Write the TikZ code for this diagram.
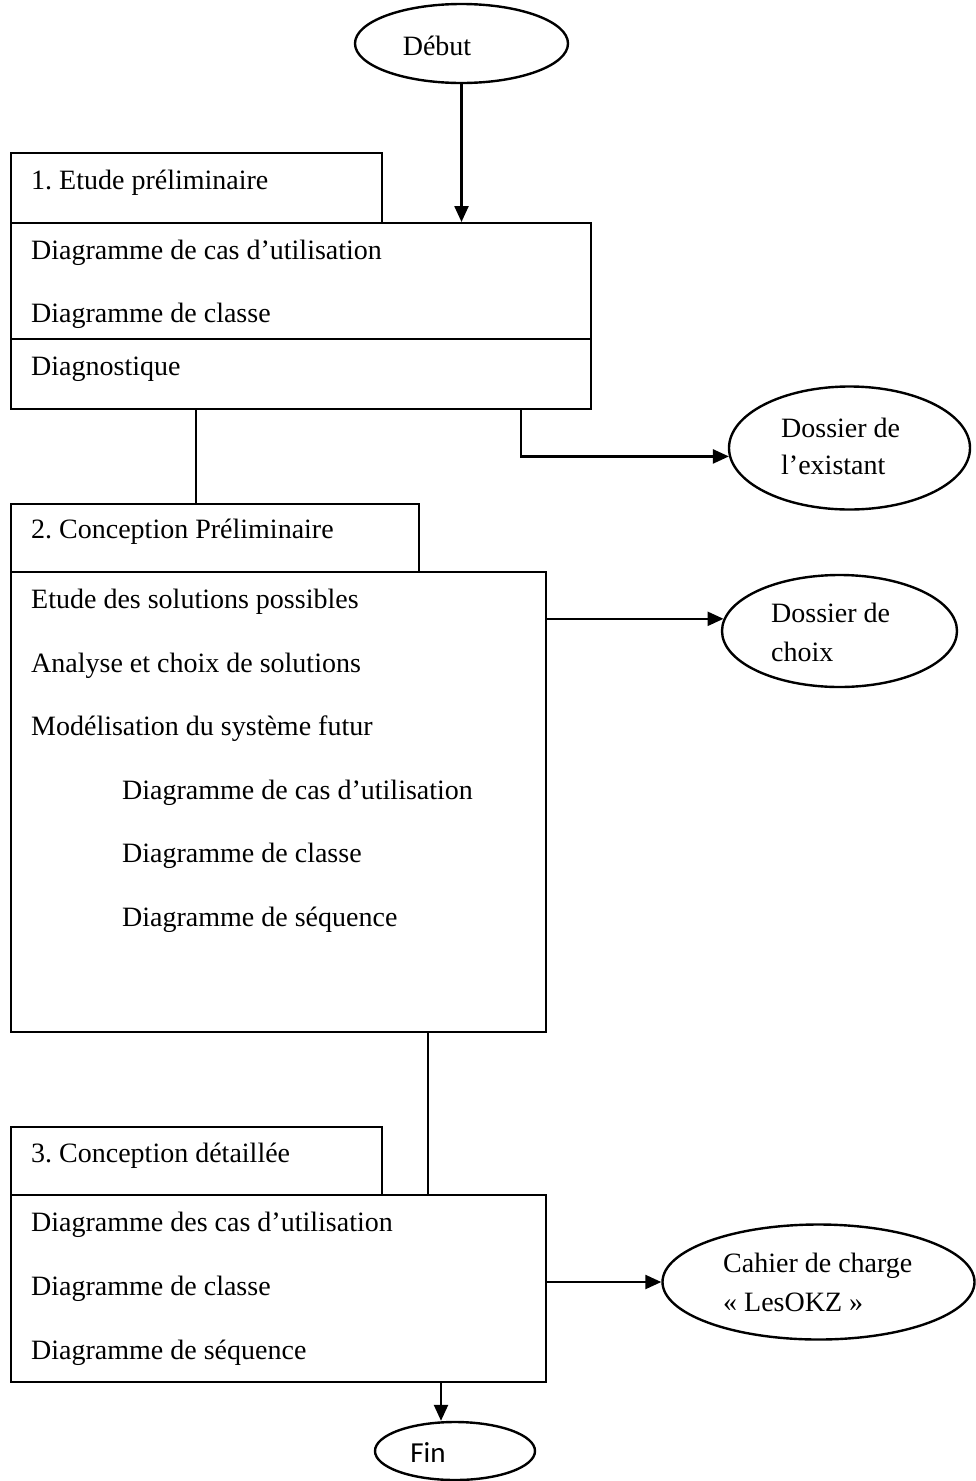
\documentclass[tikz,border=0pt]{standalone}
\usepackage{fontspec}
\setmainfont{Liberation Serif}
\newfontfamily\finfont{Carlito}
\usetikzlibrary{arrows.meta,shapes.geometric}
\frenchspacing
\begin{document}
\begin{tikzpicture}[x=1pt,y=-1pt,
  every path/.style={line width=2.4pt},
  boxnode/.style={draw,line width=2.4pt,inner sep=0pt,anchor=north west},
  oval/.style={draw,ellipse,line width=2.4pt,inner sep=0pt},
  txt/.style={anchor=base west,inner sep=0pt,font=\fontsize{28}{38}\selectfont},
  ctxt/.style={anchor=base,inner sep=0pt,font=\fontsize{28}{38}\selectfont},
  arr/.style={-{Triangle[length=16pt,width=14pt]},line width=2.4pt}]
\useasboundingbox (0,0) rectangle (976,1481);

% ellipses
\node[oval,minimum width=213pt,minimum height=79pt] (debut) at (461.5,43.5) {};
\node[ctxt] (debutT) at (437,55) {Début};
\node[oval,minimum width=241pt,minimum height=123pt] (exist) at (849.5,448) {};
\node[txt] (existT1) at (780,437) {Dossier de};
\node[txt] (existT2) at (780,474) {l’existant};
\node[oval,minimum width=235pt,minimum height=112pt] (choix) at (839.5,631) {};
\node[txt] (choixT1) at (770,622) {Dossier de};
\node[txt] (choixT2) at (770,661) {choix};
\node[oval,minimum width=312pt,minimum height=115pt] (cahier) at (818.5,1282) {};
\node[txt] (cahierT1) at (722,1272) {Cahier de charge};
\node[txt] (cahierT2) at (722,1311) {« LesOKZ »};
\node[oval,minimum width=160pt,minimum height=58pt] (fin) at (455,1451) {};
\node[anchor=base,inner sep=0pt,font=\finfont\fontsize{29}{36}\selectfont] (finT) at (428,1462) {Fin};

% box 1
\node[boxnode,minimum width=371pt,minimum height=70pt] (h1) at (10,152) {};
\node[boxnode,minimum width=580pt,minimum height=116pt] (b1a) at (10,222) {};
\node[boxnode,minimum width=580pt,minimum height=70pt] (b1b) at (10,338) {};
\node[txt] (t11) at (30,189) {1. Etude préliminaire};
\node[txt] (t12) at (30,259) {Diagramme de cas d’utilisation};
\node[txt] (t13) at (30,322) {Diagramme de classe};
\node[txt] (t14) at (30,375) {Diagnostique};

% box 2
\node[boxnode,minimum width=408pt,minimum height=68pt] (h2) at (10,503) {};
\node[boxnode,minimum width=535pt,minimum height=460pt] (b2) at (10,571) {};
\node[txt] (t21) at (30,538) {2. Conception Préliminaire};
\node[txt] (t22) at (30,608) {Etude des solutions possibles};
\node[txt] (t23) at (30,672) {Analyse et choix de solutions};
\node[txt] (t24) at (30,735) {Modélisation du système futur};
\node[txt] (t25) at (121,799) {Diagramme de cas d’utilisation};
\node[txt] (t26) at (121,862) {Diagramme de classe};
\node[txt] (t27) at (121,926) {Diagramme de séquence};

% box 3
\node[boxnode,minimum width=371pt,minimum height=68pt] (h3) at (10,1126) {};
\node[boxnode,minimum width=535pt,minimum height=187pt] (b3) at (10,1194) {};
\node[txt] (t31) at (30,1162) {3. Conception détaillée};
\node[txt] (t32) at (30,1231) {Diagramme des cas d’utilisation};
\node[txt] (t33) at (30,1295) {Diagramme de classe};
\node[txt] (t34) at (30,1359) {Diagramme de séquence};

% connector x positions
\coordinate (c1) at (196,0);
\coordinate (c2) at (521,0);
\coordinate (c3) at (428,0);
\coordinate (c4) at (441,0);

% connectors
\draw[arr] (debut.south) -- (debut.south |- b1a.north);
\draw (b1b.south -| c1) -- (h2.north -| c1);
\draw[arr] (b1b.south -| c2) |- (exist.184);
\draw[arr] (choix.174 -| b2.east) -- (choix.174);
\draw (b2.south -| c3) -- (b3.north -| c3);
\draw[arr] (cahier.west -| b3.east) -- (cahier.west);
\draw[arr] (b3.south -| c4) -- (fin.north -| c4);
\end{tikzpicture}
\end{document}
